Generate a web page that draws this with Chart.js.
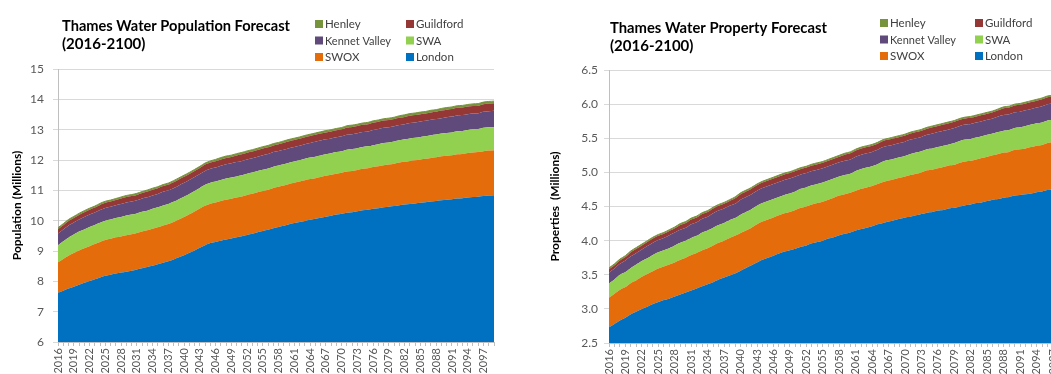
<!DOCTYPE html>
<html lang="en">
<head>
<meta charset="UTF-8">
<title>Thames Water Forecasts</title>
<script src="https://cdn.jsdelivr.net/npm/chart.js"></script>
<style>
  html, body { margin: 0; padding: 0; background: #fff; }
  #wrap { position: relative; width: 1051px; height: 374px; overflow: hidden; }
  canvas { position: absolute; top: 0; }
  #popChart { left: 0; width: 530px; height: 374px; }
  #propChart { left: 530px; width: 560px; height: 374px; }
</style>
</head>
<body>
<div id="wrap">
  <canvas id="popChart" width="530" height="374"></canvas>
  <canvas id="propChart" width="560" height="374"></canvas>
</div>

<script>
// years 2016..2099
const years = [];
for (let y = 2016; y <= 2099; y++) years.push(String(y));

const seriesNames = ['London', 'SWOX', 'SWA', 'Kennet Valley', 'Guildford', 'Henley'];

// population (millions), one value per year, each zone on its own
const popLondon = [
  7.62,7.69,7.76,7.82,7.89,7.95,8.01,8.07,8.13,8.18,
  8.22,8.26,8.29,8.32,8.35,8.39,8.43,8.47,8.51,8.56,
  8.61,8.66,8.72,8.79,8.86,8.94,9.02,9.11,9.19,9.26,
  9.30,9.34,9.38,9.41,9.45,9.49,9.53,9.57,9.62,9.66,
  9.70,9.75,9.79,9.83,9.88,9.92,9.96,9.99,10.03,10.06,
  10.10,10.13,10.16,10.20,10.23,10.26,10.28,10.31,10.34,10.36,
  10.39,10.41,10.44,10.46,10.48,10.51,10.53,10.55,10.57,10.59,
  10.61,10.63,10.65,10.67,10.69,10.71,10.73,10.74,10.76,10.78,
  10.79,10.81,10.83,10.84];
const popSwox = [
  1.01,1.05,1.08,1.11,1.13,1.14,1.15,1.16,1.17,1.18,
  1.18,1.19,1.19,1.20,1.20,1.20,1.21,1.21,1.22,1.22,
  1.23,1.23,1.24,1.25,1.26,1.27,1.28,1.29,1.30,1.30,
  1.30,1.31,1.31,1.31,1.31,1.31,1.32,1.32,1.32,1.32,
  1.32,1.33,1.33,1.33,1.33,1.33,1.33,1.34,1.34,1.34,
  1.34,1.35,1.35,1.35,1.35,1.36,1.36,1.36,1.37,1.37,
  1.38,1.38,1.39,1.39,1.40,1.41,1.41,1.42,1.42,1.43,
  1.43,1.44,1.44,1.45,1.45,1.45,1.46,1.46,1.47,1.47,
  1.47,1.48,1.48,1.48];
const popSwa = [
  0.56,0.58,0.60,0.61,0.62,0.62,0.63,0.63,0.63,0.64,
  0.64,0.64,0.64,0.65,0.65,0.65,0.65,0.65,0.66,0.66,
  0.66,0.66,0.66,0.67,0.67,0.67,0.68,0.68,0.69,0.69,
  0.69,0.69,0.70,0.70,0.70,0.70,0.70,0.70,0.70,0.70,
  0.70,0.70,0.70,0.70,0.70,0.70,0.70,0.71,0.71,0.71,
  0.71,0.71,0.71,0.71,0.71,0.72,0.72,0.72,0.72,0.72,
  0.72,0.73,0.73,0.73,0.73,0.73,0.74,0.74,0.74,0.74,
  0.74,0.75,0.75,0.75,0.75,0.75,0.76,0.76,0.76,0.76,
  0.76,0.77,0.77,0.77];
const popKennet = [
  0.39,0.39,0.40,0.40,0.40,0.41,0.41,0.41,0.42,0.42,
  0.42,0.42,0.43,0.43,0.43,0.43,0.44,0.44,0.44,0.44,
  0.45,0.45,0.45,0.45,0.46,0.46,0.46,0.46,0.46,0.46,
  0.46,0.47,0.47,0.47,0.47,0.47,0.47,0.47,0.47,0.48,
  0.48,0.48,0.48,0.48,0.48,0.48,0.48,0.48,0.48,0.49,
  0.49,0.49,0.49,0.49,0.49,0.49,0.49,0.49,0.49,0.49,
  0.50,0.50,0.50,0.50,0.50,0.50,0.50,0.51,0.51,0.51,
  0.51,0.51,0.51,0.51,0.52,0.52,0.52,0.52,0.52,0.52,
  0.52,0.53,0.53,0.53];
const popGuildford = [
  0.14,0.14,0.15,0.15,0.15,0.16,0.16,0.16,0.17,0.17,
  0.17,0.17,0.18,0.18,0.18,0.18,0.18,0.19,0.19,0.19,
  0.19,0.19,0.20,0.20,0.20,0.20,0.20,0.20,0.21,0.21,
  0.21,0.21,0.21,0.21,0.22,0.22,0.22,0.22,0.22,0.22,
  0.22,0.22,0.22,0.23,0.23,0.23,0.23,0.23,0.23,0.23,
  0.23,0.23,0.23,0.23,0.23,0.24,0.24,0.24,0.24,0.24,
  0.24,0.24,0.24,0.24,0.24,0.24,0.24,0.24,0.24,0.24,
  0.24,0.24,0.24,0.25,0.25,0.25,0.25,0.25,0.25,0.25,
  0.25,0.25,0.25,0.25];
const popHenley = [
  0.05,0.05,0.05,0.05,0.05,0.05,0.05,0.05,0.05,0.05,
  0.05,0.05,0.05,0.05,0.05,0.05,0.05,0.05,0.05,0.05,
  0.05,0.05,0.05,0.05,0.05,0.05,0.05,0.05,0.05,0.05,
  0.06,0.06,0.06,0.06,0.06,0.06,0.06,0.06,0.06,0.06,
  0.06,0.06,0.06,0.06,0.06,0.06,0.06,0.06,0.06,0.06,
  0.06,0.06,0.06,0.06,0.06,0.06,0.06,0.06,0.06,0.06,
  0.06,0.06,0.06,0.06,0.06,0.07,0.07,0.07,0.07,0.07,
  0.07,0.07,0.07,0.07,0.07,0.07,0.07,0.07,0.07,0.07,
  0.07,0.07,0.07,0.07];

// properties (millions)
const propLondon = [
  2.73,2.78,2.83,2.87,2.92,2.96,3.00,3.03,3.07,3.10,
  3.13,3.15,3.18,3.21,3.24,3.27,3.30,3.33,3.36,3.39,
  3.43,3.46,3.49,3.52,3.56,3.60,3.64,3.68,3.72,3.75,
  3.78,3.81,3.84,3.86,3.88,3.91,3.93,3.96,3.98,4.00,
  4.03,4.05,4.08,4.10,4.12,4.15,4.17,4.19,4.21,4.24,
  4.26,4.28,4.30,4.32,4.34,4.35,4.37,4.39,4.41,4.42,
  4.44,4.45,4.47,4.48,4.50,4.52,4.53,4.55,4.56,4.58,
  4.60,4.61,4.63,4.64,4.66,4.67,4.68,4.69,4.71,4.72,
  4.74,4.75,4.76,4.78];
const propSwox = [
  0.43,0.44,0.45,0.45,0.46,0.46,0.47,0.48,0.48,0.49,
  0.49,0.50,0.50,0.51,0.51,0.52,0.52,0.53,0.53,0.54,
  0.54,0.54,0.55,0.55,0.55,0.55,0.55,0.56,0.56,0.56,
  0.56,0.56,0.56,0.56,0.57,0.57,0.57,0.57,0.57,0.57,
  0.57,0.58,0.58,0.58,0.58,0.58,0.59,0.59,0.59,0.59,
  0.60,0.60,0.60,0.60,0.60,0.61,0.61,0.61,0.62,0.62,
  0.62,0.63,0.63,0.63,0.64,0.64,0.64,0.64,0.65,0.65,
  0.65,0.66,0.66,0.66,0.67,0.67,0.67,0.68,0.68,0.68,
  0.69,0.69,0.69,0.70];
const propSwa = [
  0.21,0.21,0.22,0.22,0.22,0.23,0.23,0.23,0.24,0.24,
  0.24,0.24,0.25,0.25,0.25,0.25,0.25,0.26,0.26,0.26,
  0.26,0.26,0.26,0.26,0.27,0.27,0.27,0.27,0.27,0.27,
  0.27,0.27,0.27,0.27,0.27,0.28,0.28,0.28,0.28,0.28,
  0.28,0.28,0.28,0.28,0.28,0.29,0.29,0.29,0.29,0.29,
  0.30,0.30,0.30,0.30,0.30,0.31,0.31,0.31,0.31,0.31,
  0.31,0.31,0.31,0.32,0.32,0.32,0.32,0.32,0.32,0.32,
  0.32,0.32,0.32,0.32,0.32,0.32,0.33,0.33,0.33,0.33,
  0.33,0.33,0.33,0.33];
const propKennet = [
  0.16,0.16,0.16,0.17,0.17,0.17,0.17,0.18,0.18,0.18,
  0.18,0.19,0.19,0.19,0.19,0.20,0.20,0.20,0.20,0.21,
  0.21,0.21,0.21,0.21,0.22,0.22,0.22,0.22,0.22,0.22,
  0.22,0.22,0.22,0.22,0.22,0.21,0.21,0.21,0.21,0.21,
  0.21,0.21,0.21,0.21,0.21,0.21,0.21,0.21,0.21,0.21,
  0.21,0.21,0.21,0.21,0.21,0.21,0.21,0.21,0.21,0.22,
  0.22,0.22,0.22,0.22,0.22,0.22,0.22,0.22,0.22,0.22,
  0.22,0.23,0.23,0.23,0.23,0.23,0.23,0.23,0.23,0.24,
  0.24,0.24,0.24,0.24];
const propGuildford = [
  0.05,0.05,0.05,0.05,0.06,0.06,0.06,0.06,0.06,0.06,
  0.06,0.06,0.06,0.07,0.07,0.07,0.07,0.07,0.07,0.07,
  0.07,0.07,0.07,0.08,0.08,0.08,0.08,0.08,0.08,0.08,
  0.08,0.08,0.08,0.08,0.08,0.08,0.08,0.08,0.08,0.08,
  0.08,0.08,0.08,0.09,0.09,0.09,0.09,0.09,0.09,0.09,
  0.09,0.09,0.09,0.09,0.09,0.09,0.09,0.09,0.09,0.09,
  0.09,0.09,0.09,0.09,0.09,0.09,0.09,0.09,0.09,0.09,
  0.09,0.09,0.10,0.10,0.10,0.10,0.10,0.10,0.10,0.10,
  0.10,0.10,0.10,0.10];
const propHenley = [
  0.02,0.02,0.02,0.02,0.02,0.02,0.02,0.02,0.02,0.02,
  0.02,0.02,0.02,0.02,0.02,0.02,0.02,0.02,0.02,0.02,
  0.02,0.02,0.02,0.02,0.02,0.02,0.02,0.02,0.02,0.02,
  0.02,0.02,0.02,0.02,0.02,0.02,0.02,0.02,0.02,0.02,
  0.02,0.02,0.02,0.02,0.02,0.02,0.02,0.02,0.02,0.02,
  0.02,0.02,0.02,0.02,0.02,0.02,0.02,0.02,0.02,0.02,
  0.02,0.02,0.02,0.02,0.02,0.02,0.02,0.02,0.02,0.02,
  0.02,0.02,0.02,0.02,0.02,0.02,0.02,0.02,0.02,0.02,
  0.02,0.02,0.02,0.02];

// colours for London, SWOX, SWA, Kennet Valley, Guildford, Henley
const colors = ['#0070C0', '#E46C0A', '#92D050', '#604A7B', '#953735', '#77933C'];

Chart.defaults.font.family = 'Lato, "Open Sans", sans-serif';
Chart.defaults.color = '#595959';

// title + two-column legend drawn at fixed spots like the excel original
const headerPlugin = {
    id: 'header',
    afterDraw(chart, args, opts) {
        const ctx = chart.ctx;
        ctx.save();
        ctx.fillStyle = '#000';
        ctx.font = 'bold 15px Lato, sans-serif';
        ctx.textBaseline = 'alphabetic';
        ctx.textAlign = 'left';
        ctx.fillText(opts.title[0], opts.titleX, opts.titleY, opts.titleWidth);
        ctx.fillText(opts.title[1], opts.titleX, opts.titleY + 18);

        // Henley, Guildford / Kennet Valley, SWA / SWOX, London
        const order = [5, 4, 3, 2, 1, 0];
        ctx.font = '11.5px Lato, sans-serif';
        ctx.textBaseline = 'middle';
        order.forEach((di, k) => {
            const col = k % 2, row = Math.floor(k / 2);
            const x = opts.legendX[col];
            const y = opts.legendY + row * 16.5;
            ctx.fillStyle = chart.data.datasets[di].backgroundColor;
            ctx.fillRect(x, y - 4, 8, 8);
            ctx.fillStyle = '#404040';
            ctx.fillText(chart.data.datasets[di].label, x + 10, y + 0.5, 66);
        });
        ctx.restore();
    }
};

function makeDatasets(values) {
    return values.map((v, i) => ({
        label: seriesNames[i],
        data: v,
        backgroundColor: colors[i],
        borderColor: colors[i],
        // only the top band keeps an outline, it smooths the upper edge
        borderWidth: i === values.length - 1 ? 1 : 0,
        pointRadius: 0,
        tension: 0.3,
        fill: i === 0 ? 'origin' : '-1'
    }));
}

function makeChart(id, values, cfg) {
    return new Chart(document.getElementById(id), {
        type: 'line',
        data: { labels: years, datasets: makeDatasets(values) },
        plugins: [headerPlugin],
        options: {
            responsive: false,
            animation: false,
            events: [],
            layout: { padding: { top: cfg.top, right: cfg.right, bottom: 0, left: 0 } },
            plugins: {
                legend: { display: false },
                tooltip: { enabled: false },
                header: cfg.header
            },
            scales: {
                x: {
                    offset: false,
                    grid: { drawOnChartArea: false, tickLength: 4, color: '#BFBFBF' },
                    border: { color: '#BFBFBF' },
                    ticks: {
                        autoSkip: false,
                        minRotation: 90,
                        maxRotation: 90,
                        padding: 2,
                        font: { size: 11 },
                        callback: function (val, idx) {
                            return idx % 3 === 0 ? this.getLabelForValue(val) : '';
                        }
                    },
                    afterFit: s => { s.height = cfg.xHeight; }
                },
                y: {
                    stacked: true,
                    min: cfg.min,
                    max: cfg.max,
                    grid: { color: '#D9D9D9', tickLength: 5 },
                    border: { color: '#BFBFBF' },
                    ticks: {
                        stepSize: cfg.step,
                        padding: cfg.tickPad,
                        font: { size: 12 },
                        callback: v => cfg.decimals ? v.toFixed(cfg.decimals) : v
                    },
                    title: {
                        display: true,
                        text: cfg.yTitle,
                        color: '#000',
                        font: { size: 12, weight: 'bold' },
                        padding: { top: cfg.titlePad, bottom: 0 }
                    },
                    afterFit: s => { s.width = cfg.yWidth; }
                }
            }
        }
    });
}

makeChart('popChart',
    [popLondon, popSwox, popSwa, popKennet, popGuildford, popHenley],
    {
        top: 69, right: 36, xHeight: 32, yWidth: 58,
        min: 6, max: 15, step: 1, decimals: 0, tickPad: 9, titlePad: 10,
        yTitle: 'Population (Millions)',
        header: {
            title: ['Thames Water Population Forecast', '(2016-2100)'],
            titleX: 62, titleY: 31, titleWidth: 228,
            legendX: [315, 406], legendY: 24
        }
    });

makeChart('propChart',
    [propLondon, propSwox, propSwa, propKennet, propGuildford, propHenley],
    {
        top: 70, right: 26, xHeight: 31, yWidth: 79,
        min: 2.5, max: 6.5, step: 0.5, decimals: 1, tickPad: 6, titlePad: 18,
        yTitle: 'Properties  (Millions)',
        header: {
            title: ['Thames Water Property Forecast', '(2016-2100)'],
            titleX: 80, titleY: 33, titleWidth: 217,
            legendX: [350, 445], legendY: 23
        }
    });
</script>
</body>
</html>
